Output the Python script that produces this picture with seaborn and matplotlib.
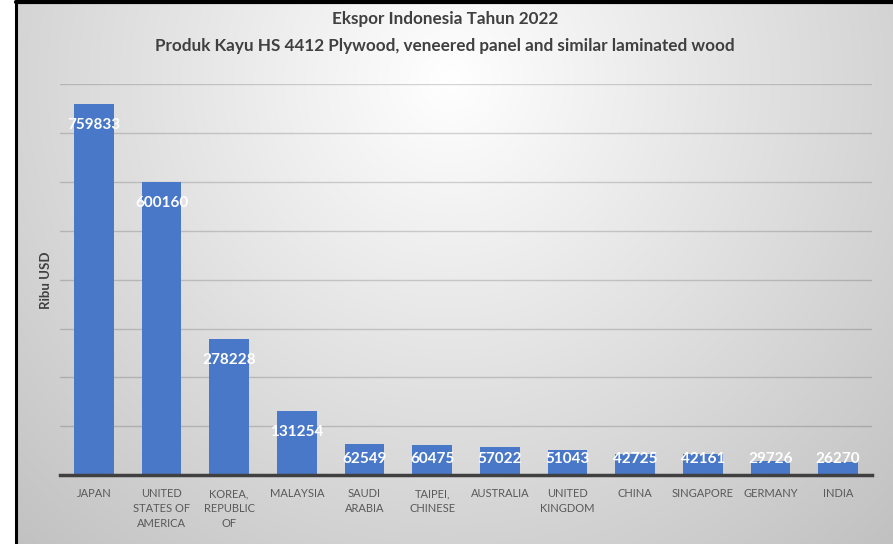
import numpy as np
import matplotlib
matplotlib.use("Agg")
import matplotlib.pyplot as plt
import seaborn as sns

# data
countries = ["JAPAN", "UNITED\nSTATES OF\nAMERICA", "KOREA,\nREPUBLIC\nOF", "MALAYSIA",
             "SAUDI\nARABIA", "TAIPEI,\nCHINESE", "AUSTRALIA", "UNITED\nKINGDOM",
             "CHINA", "SINGAPORE", "GERMANY", "INDIA"]
values = [759833, 600160, 278228, 131254, 62549, 60475, 57022, 51043, 42725, 42161, 29726, 26270]

title = "Ekspor Indonesia Tahun 2022\nProduk Kayu HS 4412 Plywood, veneered panel and similar laminated wood"
ylabel = "Ribu USD"

sns.set_style("white")
plt.rcParams['font.family'] = ['Lato', 'DejaVu Sans']

fig = plt.figure(figsize=(8.93, 5.44), dpi=100)

# gradient background of the chart area
bg = fig.add_axes([0, 0, 1, 1], zorder=-10)
W, H = 893, 544
yy, xx = np.mgrid[0:H, 0:W]
d = np.sqrt(((xx - 450) / 500.0) ** 2 + ((yy - 80) / 500.0) ** 2)
shade = np.clip(1 - 0.19 * d, 0, 1)
img = np.dstack([shade, shade, shade])
img[:, :15] = 1.0
bg.imshow(img, extent=[0, W, H, 0], aspect='auto', interpolation='bilinear')
bg.plot([15.5, 15.5], [544, 1.5], color='black', lw=2.2)
bg.plot([15.5, 893], [1.5, 1.5], color='black', lw=3)
bg.set_xlim(0, W)
bg.set_ylim(H, 0)
bg.axis('off')

ax = fig.add_axes([0.0672, 0.1268, 0.9093, 0.7179])
ax.patch.set_alpha(0)
sns.barplot(x=countries, y=values, color='#4a78c8', saturation=1, width=0.59,
            linewidth=0, ax=ax, zorder=3)

ax.set_ylim(0, 800000)
ax.set_yticks(np.arange(0, 800001, 100000))
ax.yaxis.grid(True, color='black', alpha=0.16, lw=1, zorder=0)
ax.tick_params(axis='y', left=False, labelleft=False)
ax.tick_params(axis='x', bottom=False, labelsize=8, labelcolor='#595959', pad=6)
for lab in ax.get_xticklabels():
    lab.set_linespacing(1.45)
    lab.set_verticalalignment('top')
for s in ['top', 'right', 'left']:
    ax.spines[s].set_visible(False)
ax.spines['bottom'].set_color('#404040')
ax.spines['bottom'].set_linewidth(2.5)
ax.spines['bottom'].set_zorder(5)
ax.set_xlabel("")
ax.set_ylabel(ylabel, fontsize=9.5, fontweight='bold', color='#404040', labelpad=6)

# value labels inside the bar tops
for i, v in enumerate(values):
    ypos = max(v - 43000, 33000)
    ax.text(i, ypos, str(v), ha='center', va='center', color='white',
            fontsize=11, fontweight='bold', zorder=6)

fig.text(0.498, 0.98, title, ha='center', va='top', fontsize=12.3,
         fontweight='bold', color='#404040', linespacing=1.85)

fig.savefig("out.png", dpi=100)
